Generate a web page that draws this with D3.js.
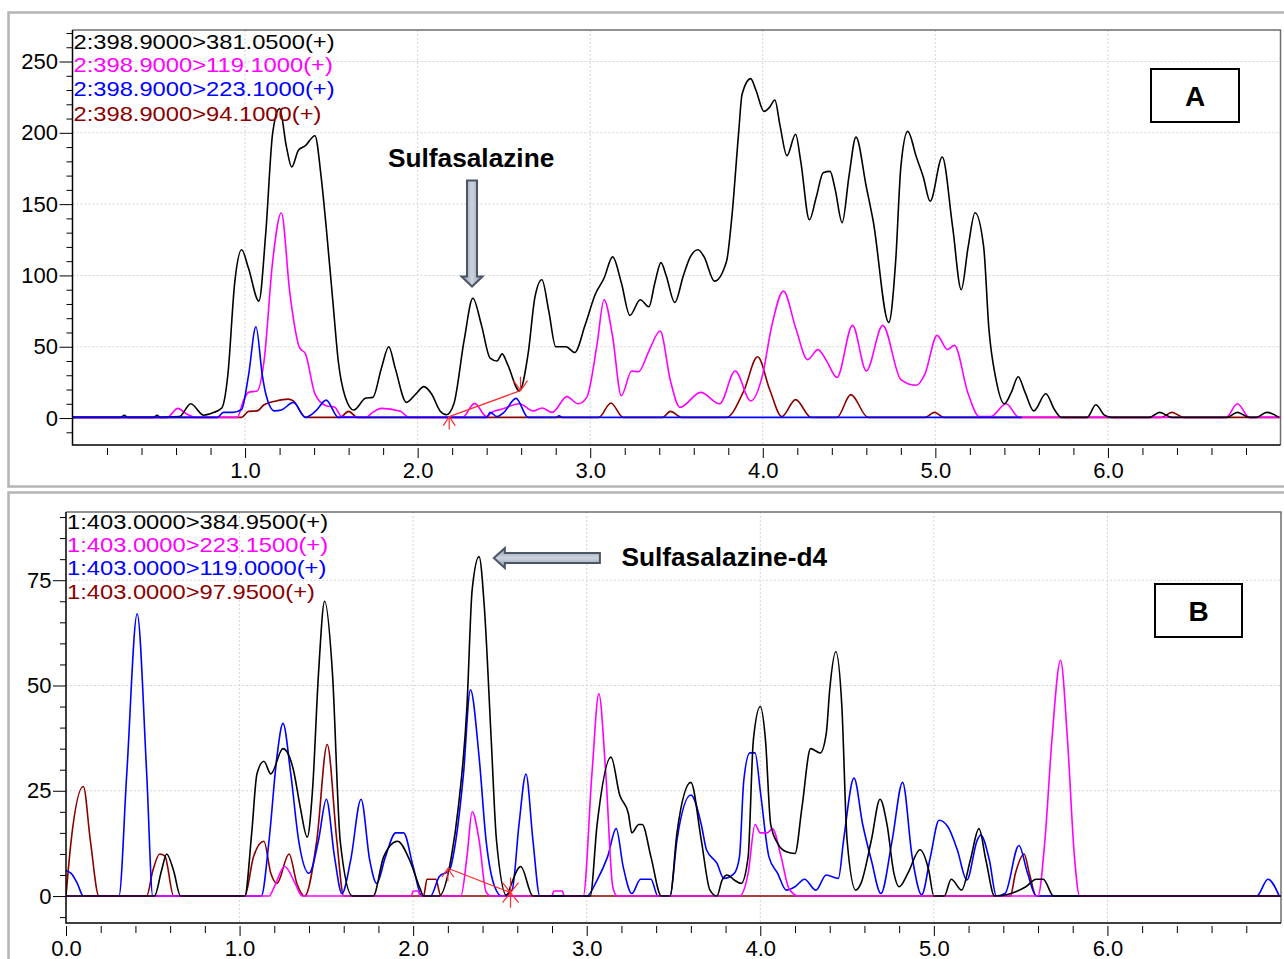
<!DOCTYPE html>
<html>
<head>
<meta charset="utf-8">
<script src="https://cdn.jsdelivr.net/npm/d3@7"></script>
<style>
  body { margin: 0; background: #ffffff; }
</style>
</head>
<body>
<div id="chart"></div>
<script>
// ---- chart values: [time (min), intensity] ----
const xTicksA = [1, 2, 3, 4, 5, 6];
const xTicksB = [0, 1, 2, 3, 4, 5, 6];
const yTicksA = [0, 50, 100, 150, 200, 250];
const yTicksB = [0, 25, 50, 75];

const legendA = ["2:398.9000>381.0500(+)", "2:398.9000>119.1000(+)", "2:398.9000>223.1000(+)", "2:398.9000>94.1000(+)"];
const legendB = ["1:403.0000>384.9500(+)", "1:403.0000>223.1500(+)", "1:403.0000>119.0000(+)", "1:403.0000>97.9500(+)"];
const traceColors = ["#000000", "#ff00ff", "#0000ff", "#8b0000"];

// panel A, m/z 398.9 transitions
const a381 = [[0,0.5],[0.28,0.5],[0.3,2],[0.32,0.5],[0.47,0.5],[0.49,2],[0.51,0.5],[0.62,1],[0.685,10],[0.76,2],[0.82,4],[0.865,7],
  [0.9,30],[0.94,95],[0.98,118],[1.02,105],[1.08,82],[1.12,130],[1.16,200],[1.2,217],[1.24,190],[1.27,176],[1.31,188],[1.35,191],
  [1.405,198],[1.44,170],[1.47,134],[1.51,80],[1.54,40],[1.58,15],[1.63,5.6],[1.7,14],[1.74,14.5],[1.79,35],[1.833,50],[1.87,35],
  [1.935,11],[1.99,17],[2.036,22],[2.08,17],[2.13,5],[2.167,2.3],[2.21,10],[2.27,55],[2.32,84],[2.37,65],[2.42,42],[2.46,40],
  [2.49,45],[2.52,38],[2.59,19],[2.64,45],[2.68,85],[2.72,97],[2.76,75],[2.8,50],[2.86,50],[2.91,46],[2.97,65],[3.03,87],
  [3.08,98],[3.13,113],[3.18,95],[3.23,72],[3.29,83],[3.34,78],[3.375,95],[3.41,109],[3.44,100],[3.49,81],[3.54,100],[3.58,113],
  [3.625,118],[3.66,113],[3.72,96],[3.79,110],[3.82,140],[3.86,200],[3.88,227],[3.93,238],[3.96,230],[4.007,215],[4.04,218],
  [4.07,223],[4.1,205],[4.14,184],[4.19,199],[4.22,180],[4.27,139],[4.31,155],[4.35,172],[4.39,173],[4.42,160],[4.46,137],
  [4.5,170],[4.54,197],[4.6,162],[4.64,138],[4.73,67],[4.77,110],[4.8,176],[4.84,201],[4.89,183],[4.93,169],[4.97,152],[5.04,183],
  [5.1,134],[5.15,90],[5.19,120],[5.23,144],[5.28,120],[5.31,63],[5.35,28],[5.4,10],[5.44,18],[5.48,29],[5.52,18],[5.57,5],
  [5.64,17],[5.69,6],[5.73,0.5],[5.88,0.5],[5.93,9.3],[5.98,2],[6.02,0.5],[6.24,0.5],[6.3,4],[6.37,0.5],[6.69,0.5],[6.75,4],
  [6.82,0.5],[6.86,0.5],[6.92,4],[6.99,0.5]];

const a119 = [[0,0.5],[0.55,0.5],[0.61,6.8],[0.66,3],[0.71,0.5],[0.955,0.5],[0.99,12],[1.02,18],[1.07,19],[1.11,40],[1.16,110],
  [1.21,144],[1.26,87],[1.315,49.5],[1.35,45],[1.405,17],[1.47,8.6],[1.52,7.5],[1.56,1],[1.7,0.5],[1.74,4],[1.79,6.8],[1.9,4.7],
  [1.95,0.5],[2.26,0.5],[2.33,10.3],[2.4,1],[2.43,4],[2.49,6.3],[2.59,10],[2.67,5],[2.72,7],[2.78,4],[2.865,15],[2.93,10],
  [2.98,14.5],[3.04,52],[3.08,83],[3.13,57],[3.18,15.6],[3.24,33],[3.28,32.5],[3.34,47],[3.405,61],[3.465,26],[3.52,7.5],
  [3.64,18],[3.75,10],[3.84,33],[3.93,12],[4.0,31],[4.05,63.5],[4.12,89],[4.19,63.5],[4.26,41],[4.32,48],[4.37,40],[4.43,28.5],
  [4.52,65],[4.6,33],[4.695,65],[4.8,27],[4.89,23],[4.94,31],[5.01,58],[5.07,48],[5.11,51],[5.19,17],[5.255,1],[5.32,1],
  [5.41,10],[5.485,0.5],[6.685,0.5],[6.75,10],[6.82,0.5],[7.0,0.5]];

const a223 = [[0,0.5],[0.84,0.5],[0.875,4],[0.93,4],[0.98,6],[1.02,30],[1.063,64],[1.1,30],[1.12,17],[1.17,5],[1.21,5.6],
  [1.28,11],[1.35,0.5],[1.41,5],[1.47,12.6],[1.54,0.5],[2.4,0.5],[2.42,4],[2.46,1],[2.5,4],[2.57,13.8],[2.64,0.5],[2.8,0.5],
  [2.82,1.5],[2.84,0.5],[5.5,0.5]];

const a94 = [[0,0.5],[0.98,0.5],[1.02,4.7],[1.07,5],[1.11,9.3],[1.18,12],[1.25,13.3],[1.28,12],[1.35,0.5],[1.55,0.5],[1.6,4.7],
  [1.65,0.5],[3.05,0.5],[3.12,10.5],[3.19,0.5],[3.42,0.5],[3.465,4.7],[3.53,0.5],[3.79,0.5],[3.89,19],[3.97,43],[4.04,20],
  [4.11,1],[4.19,12.9],[4.28,0.5],[4.43,0.5],[4.51,16.4],[4.61,0.5],[4.94,0.5],[4.995,4],[5.05,0.5],[6.31,0.5],[6.37,4],
  [6.44,0.5],[7.0,0.5]];

// panel B, m/z 403.0 transitions
const b385 = [[0,0],[0.51,0],[0.55,6],[0.58,10],[0.62,6],[0.66,0],[1.03,0],[1.07,15],[1.1,29],[1.14,32],[1.18,29],[1.25,35],
  [1.31,30],[1.35,21],[1.39,14],[1.42,25],[1.455,53],[1.49,70],[1.535,53],[1.58,13],[1.65,0],[1.77,0],[1.83,9.3],[1.91,13],
  [1.98,8.5],[2.04,1.8],[2.06,0],[2.15,0],[2.22,9.3],[2.26,21],[2.31,45],[2.34,72.7],[2.38,80.6],[2.41,68.7],[2.45,37],
  [2.48,13.3],[2.54,0],[2.56,2.2],[2.62,7],[2.69,0],[3.02,0],[3.06,17],[3.14,33],[3.19,24],[3.24,19.6],[3.26,15],[3.3,17],
  [3.32,17],[3.37,9.3],[3.43,0],[3.48,0],[3.52,15],[3.6,27],[3.66,13.3],[3.71,1.4],[3.75,0],[3.78,3.8],[3.81,5],[3.85,3.8],
  [3.89,3],[3.93,9.3],[3.96,37],[4.0,45],[4.03,37],[4.06,17],[4.1,12.5],[4.15,10.5],[4.2,10.1],[4.24,21],[4.29,35],[4.345,34],
  [4.38,38.6],[4.4,49],[4.435,58],[4.47,45],[4.5,13.3],[4.55,1.4],[4.58,3],[4.64,13.3],[4.69,23],[4.73,17],[4.77,5.4],[4.8,2.2],
  [4.85,5.4],[4.92,11],[4.97,6.2],[5.0,0],[5.06,0],[5.1,4],[5.16,1.4],[5.21,8.5],[5.26,16],[5.3,8.5],[5.35,0],[5.53,2.2],
  [5.59,4],[5.63,4],[5.69,0],[7.0,0]];

const b223 = [[0,0],[1.17,0],[1.2,2.2],[1.26,7],[1.32,3],[1.36,0],[1.99,0],[2.0,1.2],[2.03,1.2],[2.04,0],[2.275,0],[2.31,9.3],
  [2.34,20],[2.38,13.3],[2.42,1],[2.45,0],[2.8,0],[2.81,1.2],[2.86,1.2],[2.87,0],[2.98,0],[3.03,29],[3.07,48],[3.11,29],
  [3.15,2.2],[3.175,0],[3.88,0],[3.93,5.4],[3.97,17],[4.0,15],[4.04,15],[4.07,16],[4.12,9.3],[4.165,1.8],[4.22,0],[5.6,0],
  [5.64,13.3],[5.68,37],[5.73,56],[5.77,37],[5.81,9.3],[5.84,0],[7.0,0]];

const b119 = [[0,6],[0.03,5.4],[0.065,3],[0.1,0],[0.305,0],[0.35,29],[0.41,67],[0.465,29],[0.5,0],[1.125,0],[1.17,13.3],
  [1.215,33],[1.25,41],[1.295,29],[1.34,13.3],[1.4,5.4],[1.455,13.3],[1.5,23],[1.547,9.3],[1.59,0.6],[1.64,8.5],[1.7,23],
  [1.75,8.5],[1.79,3],[1.84,9.3],[1.9,15],[1.945,15],[2.0,7],[2.05,0],[2.1,0],[2.15,4.6],[2.21,6.2],[2.24,11.7],[2.29,29],
  [2.33,49],[2.38,33],[2.42,13.3],[2.47,2.2],[2.51,0],[2.57,1.4],[2.61,17],[2.65,29],[2.69,13.3],[2.73,0],[3.0,0],[3.06,3.8],
  [3.12,9.3],[3.17,16],[3.21,7],[3.26,0.6],[3.31,4],[3.37,4],[3.41,0],[3.48,0],[3.52,13.3],[3.6,24],[3.66,17],[3.69,11],
  [3.75,7.8],[3.79,4.2],[3.85,5.4],[3.88,9.3],[3.905,27.5],[3.94,34],[3.97,34],[4.0,25],[4.05,9.3],[4.1,5.4],[4.15,1.4],
  [4.2,2.2],[4.255,4],[4.32,1.4],[4.38,5],[4.45,4.2],[4.48,13.3],[4.54,28],[4.59,17],[4.64,8.5],[4.695,0.6],[4.76,13.3],
  [4.82,27],[4.875,9.3],[4.93,0.3],[4.98,9.3],[5.03,18],[5.08,16.5],[5.135,11],[5.19,3.8],[5.25,13.3],[5.27,14.5],[5.32,8.5],
  [5.36,0],[5.41,0.6],[5.49,12],[5.54,5.4],[5.59,0],[6.86,0],[6.925,4],[6.99,0]];

const b98 = [[0,0],[0.03,13.3],[0.1,26],[0.14,13.3],[0.19,0],[0.465,0],[0.5,6],[0.54,10],[0.57,9.5],[0.62,0],[1.03,0],
  [1.08,9.3],[1.14,13],[1.18,5.4],[1.215,3],[1.285,10],[1.33,3],[1.375,0],[1.445,13.3],[1.505,36],[1.56,13.3],[1.6,0],
  [2.06,0],[2.08,4],[2.13,4],[2.16,0],[5.44,0],[5.47,5.4],[5.52,10],[5.55,5.4],[5.59,0],[7.0,0]];

// integration baselines and annotations (time, intensity)
const integA = [[2.183, 1], [2.596, 19.2]];
const integB = [[2.2, 6.6], [2.561, 0.8]];
const arrowA = { t: 2.315, tip: 92.2, tail: 166.5 };
const arrowB = { v: 80.3, tip: 2.465, tail: 3.076 };

const W = 1284, H = 959;
const FONT = "'Liberation Sans', Arial, Helvetica, sans-serif";

const svg = d3.select("#chart").append("svg")
  .attr("width", W)
  .attr("height", H)
  .style("font-family", FONT);

const defs = svg.append("defs");
function addGradient(id, vertical) {
  const gr = defs.append("linearGradient").attr("id", id)
    .attr("x1", 0).attr("y1", 0)
    .attr("x2", vertical ? 0 : 1).attr("y2", vertical ? 1 : 0);
  gr.append("stop").attr("offset", "0%").attr("stop-color", "#8e9aab");
  gr.append("stop").attr("offset", "50%").attr("stop-color", "#ccd3de");
  gr.append("stop").attr("offset", "100%").attr("stop-color", "#8e9aab");
}
addGradient("gradA", false);
addGradient("gradB", true);

// text helper: stretch horizontally around its anchor point
function stretchedText(g, x, y, str, opts) {
  return g.append("text")
    .attr("transform", `translate(${x},${y}) scale(${opts.sx || 1},1)`)
    .attr("text-anchor", opts.anchor || "start")
    .attr("font-size", opts.size)
    .attr("font-weight", opts.weight || "normal")
    .attr("fill", opts.color || "#000")
    .text(str);
}

function drawPanel(p) {
  const g = svg.append("g");

  // outer gray frame
  g.append("rect")
    .attr("x", p.frame[0]).attr("y", p.frame[1])
    .attr("width", p.frame[2]).attr("height", p.frame[3])
    .attr("fill", "none")
    .attr("stroke", "#b4b4b4")
    .attr("stroke-width", 2.5);

  const x = d3.scaleLinear().domain([0, 7]).range([p.left, p.right]);
  const y = d3.scaleLinear().domain(p.yDomain).range([p.bottom, p.top]);

  // dotted grid
  const grid = g.append("g")
    .attr("stroke", "#d4d4d4")
    .attr("stroke-width", 1)
    .attr("stroke-dasharray", "2,2");
  grid.selectAll(".gx").data(p.xTicks.filter((d) => d > 0)).join("line")
    .attr("x1", (d) => x(d)).attr("x2", (d) => x(d))
    .attr("y1", p.top).attr("y2", p.bottom);
  grid.selectAll(".gy").data(p.yTicks.filter((d) => d > 0)).join("line")
    .attr("x1", p.left).attr("x2", p.right)
    .attr("y1", (d) => y(d)).attr("y2", (d) => y(d));

  // plot box top/right edges
  g.append("path")
    .attr("d", `M${p.left},${p.top}H${p.right}V${p.bottom}`)
    .attr("fill", "none")
    .attr("stroke", "#6e6e6e")
    .attr("stroke-width", 1.5);

  // traces
  const clipId = "clip-" + p.name;
  defs.append("clipPath").attr("id", clipId)
    .append("rect")
    .attr("x", p.left).attr("y", p.top)
    .attr("width", p.right - p.left).attr("height", p.bottom - p.top);

  const line = d3.line()
    .x((d) => x(d[0]))
    .y((d) => y(d[1]))
    .curve(d3.curveMonotoneX);

  g.append("g")
    .attr("clip-path", `url(#${clipId})`)
    .selectAll("path")
    .data(p.traces)
    .join("path")
    .attr("d", (d) => line(d.data))
    .attr("fill", "none")
    .attr("stroke", (d) => d.color)
    .attr("stroke-width", 1.6)
    .attr("stroke-linejoin", "round");

  // x axis: minor + major ticks hanging just under the axis line
  const xMinor = d3.range(1, 35).filter((i) => i % 5 !== 0).map((i) => i / 5);
  g.append("g")
    .attr("transform", `translate(0,${p.bottom + 3})`)
    .call(d3.axisBottom(x).tickValues(xMinor).tickSize(7).tickFormat(""))
    .call((a) => a.select(".domain").remove());
  g.append("g")
    .attr("transform", `translate(0,${p.bottom + 3})`)
    .call(d3.axisBottom(x).tickValues(p.xTicks).tickSize(10).tickPadding(4).tickFormat(d3.format(".1f")))
    .call((a) => a.select(".domain").remove())
    .call((a) => a.selectAll("text").attr("font-size", 22).attr("font-family", FONT).attr("fill", "#000"));

  // y axis
  g.append("g")
    .attr("transform", `translate(${p.left},0)`)
    .call(d3.axisLeft(y).tickValues(p.yMinor).tickSize(6).tickFormat(""))
    .call((a) => a.select(".domain").remove());
  g.append("g")
    .attr("transform", `translate(${p.left},0)`)
    .call(d3.axisLeft(y).tickValues(p.yTicks).tickSize(13).tickPadding(1.5))
    .call((a) => a.select(".domain").remove())
    .call((a) => a.selectAll("text").attr("font-size", 22).attr("font-family", FONT).attr("fill", "#000"));

  // axis lines
  g.append("path")
    .attr("d", `M${p.left},${p.top}V${p.bottom}H${p.right}`)
    .attr("fill", "none")
    .attr("stroke", "#000")
    .attr("stroke-width", 1.5);

  // legend of transitions
  p.legend.forEach((txt, i) => {
    stretchedText(g, p.left + 1, p.top + p.legendY[i], txt, { size: 21, sx: 1.13, color: traceColors[i] });
  });

  // panel letter box
  const b = p.letterBox;
  g.append("rect")
    .attr("x", b[0]).attr("y", b[1]).attr("width", b[2]).attr("height", b[3])
    .attr("fill", "#fff")
    .attr("stroke", "#000")
    .attr("stroke-width", 2);
  stretchedText(g, b[0] + b[2] / 2, b[1] + b[3] / 2 + 10, p.name, { size: 28, weight: "bold", anchor: "middle" });

  return { g, x, y };
}

// red integration line with its end markers
function drawIntegration(panel, pts, endStyles) {
  const { g, x, y } = panel;
  const red = "#ff2a2a";
  const pp = pts.map((d) => [x(d[0]), y(d[1])]);
  g.append("line")
    .attr("x1", pp[0][0]).attr("y1", pp[0][1])
    .attr("x2", pp[1][0]).attr("y2", pp[1][1])
    .attr("stroke", red).attr("stroke-width", 1.2);
  pp.forEach((pt, i) => {
    const rays = endStyles[i];
    g.append("g").selectAll("line").data(rays).join("line")
      .attr("x1", pt[0]).attr("y1", pt[1])
      .attr("x2", (r) => pt[0] + r[0]).attr("y2", (r) => pt[1] + r[1])
      .attr("stroke", red).attr("stroke-width", 1.2);
  });
}

const panelA = drawPanel({
  name: "A",
  frame: [8.5, 12.5, 1290, 474],
  left: 72.5, right: 1280.5, top: 30, bottom: 445,
  yDomain: [-18.9, 272.1],
  xTicks: xTicksA,
  yTicks: yTicksA,
  yMinor: d3.range(-10, 271, 10).filter((d) => d % 50 !== 0),
  traces: [
    { data: a94, color: traceColors[3] },
    { data: a119, color: traceColors[1] },
    { data: a381, color: traceColors[0] },
    { data: a223, color: traceColors[2] }
  ],
  legend: legendA,
  legendY: [19, 42, 66, 91],
  letterBox: [1151, 69, 88, 53]
});

const panelB = drawPanel({
  name: "B",
  frame: [8.5, 492.5, 1290, 480],
  left: 66, right: 1281, top: 512, bottom: 923,
  yDomain: [-6.4, 91.2],
  xTicks: xTicksB,
  yTicks: yTicksB,
  yMinor: d3.range(-5, 91, 5).filter((d) => d % 25 !== 0),
  traces: [
    { data: b98, color: traceColors[3] },
    { data: b119, color: traceColors[2] },
    { data: b223, color: traceColors[1] },
    { data: b385, color: traceColors[0] }
  ],
  legend: legendB,
  legendY: [17, 40, 63, 87],
  letterBox: [1155, 584, 87, 53]
});

// integration marks
const upArrow = [[0, 13], [-6, 9], [6, 9]];
const downArrow = [[0, -14], [-7, -10], [7, -10]];
const star = [[0, -15], [0, 15], [-8, -10], [8, -10], [-8, 10], [8, 10]];
drawIntegration(panelA, integA, [upArrow, downArrow]);
drawIntegration(panelB, integB, [upArrow, star]);

// Sulfasalazine: down-pointing block arrow in A
{
  const { g, x, y } = panelA;
  const cx = x(arrowA.t), tipY = y(arrowA.tip), topY = y(arrowA.tail);
  const pts = [[cx, tipY], [cx - 10.5, tipY - 10], [cx - 5, tipY - 10], [cx - 5, topY],
    [cx + 5, topY], [cx + 5, tipY - 10], [cx + 10.5, tipY - 10]];
  g.append("polygon")
    .attr("points", pts.map((d) => d.join(",")).join(" "))
    .attr("fill", "url(#gradA)")
    .attr("stroke", "#4a5666")
    .attr("stroke-width", 2)
    .attr("stroke-linejoin", "miter");
  stretchedText(g, x(2.31), y(176), "Sulfasalazine", { size: 25, weight: "bold", sx: 1.05, anchor: "middle" });
}

// Sulfasalazine-d4: left-pointing block arrow in B
{
  const { g, x, y } = panelB;
  const cy = y(arrowB.v), tipX = x(arrowB.tip), tailX = x(arrowB.tail);
  const pts = [[tipX, cy], [tipX + 11, cy - 10], [tipX + 11, cy - 5], [tailX, cy - 5],
    [tailX, cy + 5], [tipX + 11, cy + 5], [tipX + 11, cy + 10]];
  g.append("polygon")
    .attr("points", pts.map((d) => d.join(",")).join(" "))
    .attr("fill", "url(#gradB)")
    .attr("stroke", "#4a5666")
    .attr("stroke-width", 2)
    .attr("stroke-linejoin", "miter");
  stretchedText(g, x(3.2), y(78.4), "Sulfasalazine-d4", { size: 25, weight: "bold", sx: 1.05 });
}
</script>
</body>
</html>
